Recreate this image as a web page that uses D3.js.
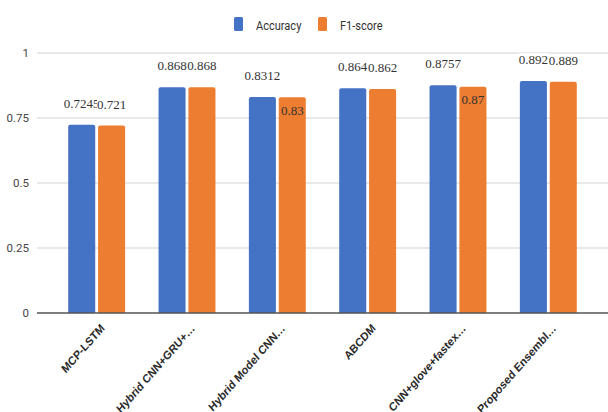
<!DOCTYPE html>
<html>
<head>
<meta charset="utf-8">
<script src="https://cdn.jsdelivr.net/npm/d3@7"></script>
<style>
  body { margin: 0; background: #fff; }
  svg { display: block; }
</style>
</head>
<body>
<svg id="chart"></svg>
<script>
const categories = [
  'MCP-LSTM',
  'Hybrid CNN+GRU+\u2026',
  'Hybrid Model CNN\u2026',
  'ABCDM',
  'CNN+glove+fastex\u2026',
  'Proposed Ensembl\u2026'
];
const accuracy = [0.7245, 0.868, 0.8312, 0.864, 0.8757, 0.892];
const f1score  = [0.721, 0.868, 0.83, 0.862, 0.87, 0.889];
const seriesNames = ['Accuracy', 'F1-score'];
const seriesColors = ['#4472c4', '#ed7d31'];
// labels drawn inside the bar top instead of above it
const accuracyInside = [false, false, false, false, false, false];
const f1Inside       = [false, false, true, false, true, false];
const yTicks = [0, 0.25, 0.5, 0.75, 1];

const width = 608, height = 412;
const plotLeft = 37, plotTop = 53, plotBottom = 313;

const svg = d3.select( '#chart' ).attr( 'width', width ).attr( 'height', height );

const y = d3.scaleLinear().domain( [ 0, 1 ] ).range( [ plotBottom, plotTop ] );
const x = d3.scaleBand().domain( categories ).range( [ 51.5, 593.5 ] ).paddingInner( 0.37 ).paddingOuter( 0.185 );
const xs = d3.scaleBand().domain( seriesNames ).range( [ 0, x.bandwidth() ] ).paddingInner( 0.095 );

// gridlines + y labels
svg.append( 'g' ).selectAll( 'line' )
  .data( yTicks.filter( d => d > 0 ) )
  .enter().append( 'line' )
  .attr( 'x1', plotLeft ).attr( 'x2', width )
  .attr( 'y1', d => y( d ) ).attr( 'y2', d => y( d ) )
  .attr( 'stroke', '#d3d3d3' ).attr( 'stroke-width', 1 );

svg.append( 'g' ).selectAll( 'text' )
  .data( yTicks )
  .enter().append( 'text' )
  .attr( 'x', 29 ).attr( 'y', d => y( d ) ).attr( 'dy', '0.35em' )
  .attr( 'text-anchor', 'end' )
  .style( 'font-family', 'Roboto, Arial, sans-serif' ).style( 'font-size', '11.5px' )
  .attr( 'fill', '#444' )
  .text( d => d3.format( '~g' )( d ) );

const rows = categories.map( ( c, i ) => ( {
  cat: c,
  vals: [
    { s: seriesNames[ 0 ], v: accuracy[ i ], inside: accuracyInside[ i ] },
    { s: seriesNames[ 1 ], v: f1score[ i ], inside: f1Inside[ i ] }
  ]
} ) );

const groups = svg.append( 'g' ).selectAll( 'g' )
  .data( rows )
  .enter().append( 'g' )
  .attr( 'transform', d => 'translate(' + x( d.cat ) + ',0)' );

groups.selectAll( 'path' )
  .data( d => d.vals )
  .enter().append( 'path' )
  .attr( 'fill', ( d, i ) => seriesColors[ i ] )
  .attr( 'd', d => {
    const x0 = xs( d.s ), w = xs.bandwidth(), y0 = y( d.v ), r = 2;
    return 'M' + x0 + ',' + plotBottom + 'V' + ( y0 + r ) + 'Q' + x0 + ',' + y0 + ' ' + ( x0 + r ) + ',' + y0 +
      'H' + ( x0 + w - r ) + 'Q' + ( x0 + w ) + ',' + y0 + ' ' + ( x0 + w ) + ',' + ( y0 + r ) + 'V' + plotBottom + 'Z';
  } );

// value labels
const labels = groups.selectAll( '.lab' )
  .data( d => d.vals )
  .enter().append( 'g' )
  .attr( 'class', 'lab' )
  .attr( 'transform', d => 'translate(' + ( xs( d.s ) + xs.bandwidth() / 2 ) + ',' +
    ( d.inside ? y( d.v ) + 17.5 : y( d.v ) - 17 ) + ')' );

labels.each( function( d ) {
  const g = d3.select( this );
  if ( !d.inside ) {
    g.append( 'rect' ).attr( 'y', -11 ).attr( 'height', 14 ).attr( 'fill', '#fff' );
  }
  const t = g.append( 'text' )
    .attr( 'text-anchor', 'middle' )
    .style( 'font-family', '"Liberation Serif", "Times New Roman", serif' )
    .style( 'font-size', '13px' )
    .attr( 'fill', '#333' )
    .text( d.v );
  if ( !d.inside ) {
    const w = t.node().getComputedTextLength();
    g.select( 'rect' ).attr( 'x', -w / 2 ).attr( 'width', w );
  }
} );

// zero line
svg.append( 'line' )
  .attr( 'x1', plotLeft ).attr( 'x2', width )
  .attr( 'y1', y( 0 ) ).attr( 'y2', y( 0 ) )
  .attr( 'stroke', '#555' ).attr( 'stroke-width', 1.4 );

// x labels
svg.append( 'g' ).selectAll( 'text' )
  .data( categories )
  .enter().append( 'text' )
  .attr( 'transform', d => 'translate(' + ( x( d ) + x.bandwidth() / 2 + 8.5 ) + ',' + ( plotBottom + 16 ) + ') scale(0.88,1) rotate(-45)' )
  .attr( 'text-anchor', 'end' )
  .style( 'font-family', '"Liberation Sans", Arial, sans-serif' ).style( 'font-size', '12px' )
  .style( 'font-weight', 'bold' )
  .attr( 'fill', '#2a2a2a' )
  .text( d => d );

// legend
const legend = svg.append( 'g' ).selectAll( 'g' )
  .data( seriesNames )
  .enter().append( 'g' )
  .attr( 'transform', ( d, i ) => 'translate(' + ( 234 + i * 84 ) + ',17)' );
legend.append( 'rect' )
  .attr( 'width', 9 ).attr( 'height', 14 ).attr( 'rx', 1.5 )
  .attr( 'fill', ( d, i ) => seriesColors[ i ] );
legend.append( 'text' )
  .attr( 'transform', 'translate(22,8) scale(0.85,1)' )
  .attr( 'dy', '0.35em' )
  .style( 'font-family', 'Roboto, Arial, sans-serif' ).style( 'font-size', '13px' )
  .attr( 'fill', '#333' )
  .text( d => d );
</script>
</body>
</html>
